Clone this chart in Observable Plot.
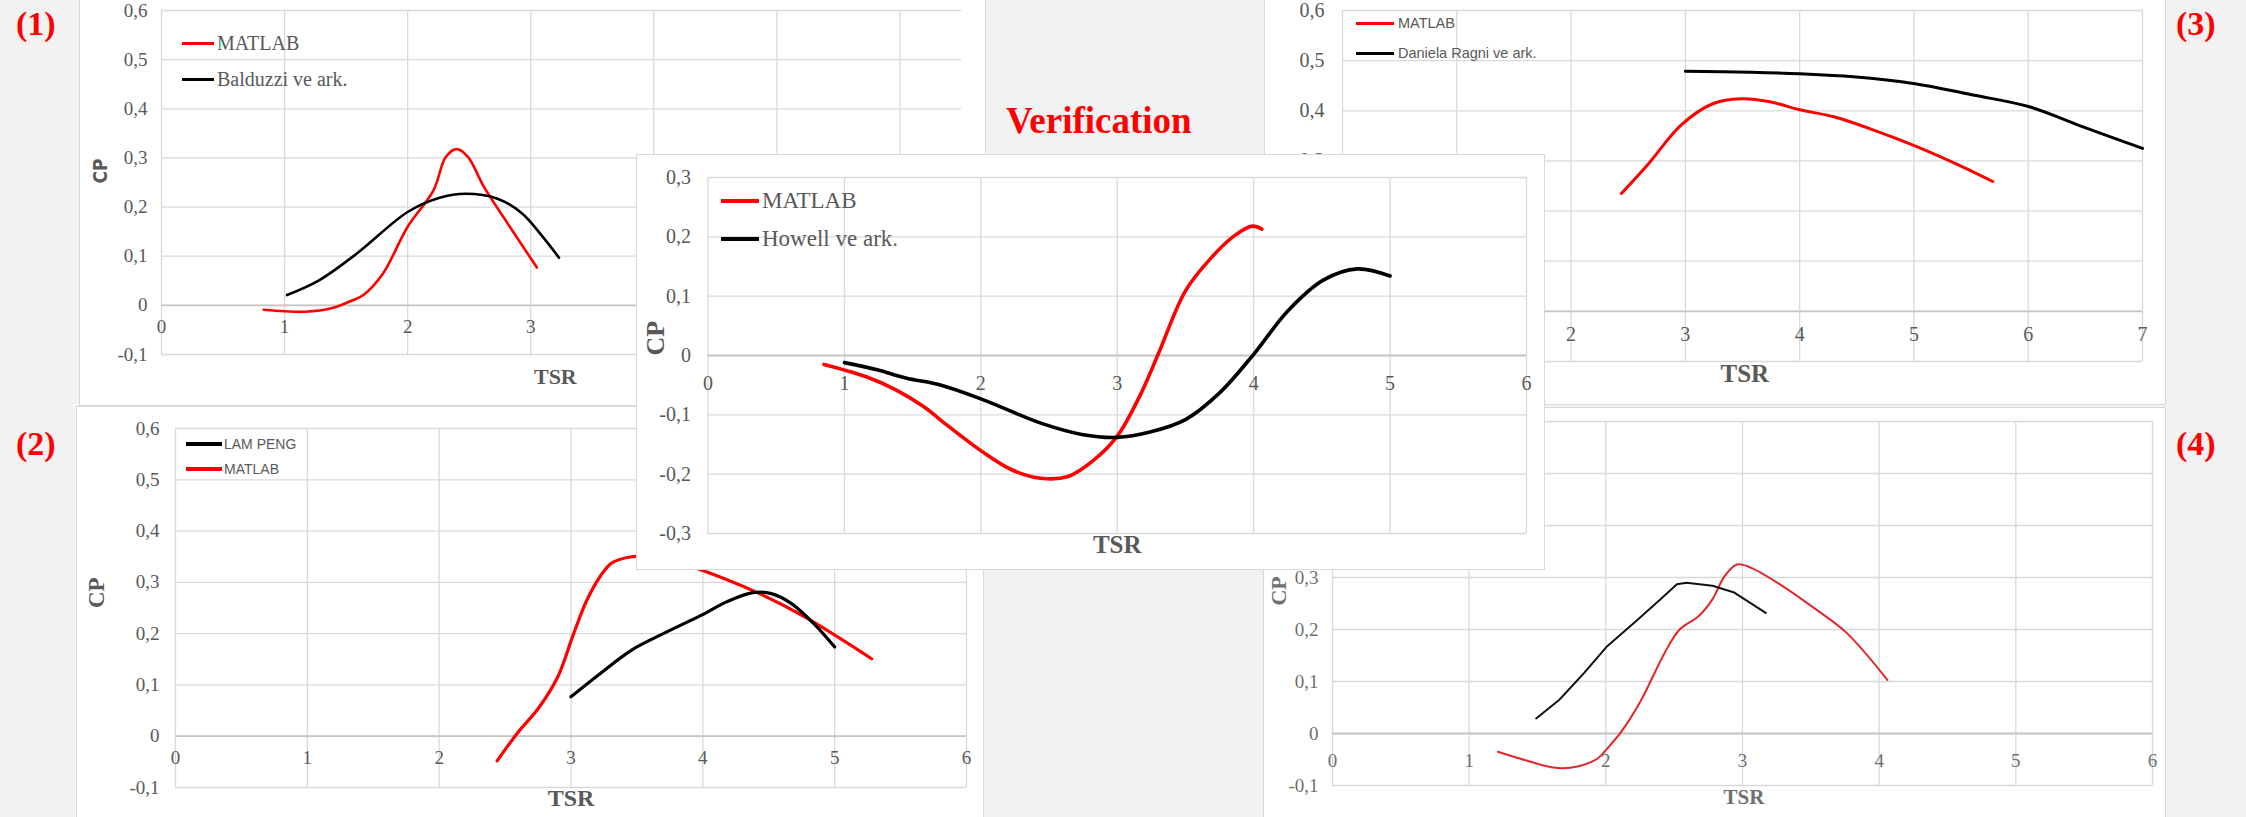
<!DOCTYPE html>
<html>
<head>
<meta charset="utf-8">
<script src="https://cdn.jsdelivr.net/npm/d3@7"></script>
<script src="https://cdn.jsdelivr.net/npm/@observablehq/plot@0.6"></script>
<style>
  html, body { margin: 0; padding: 0; background: #f2f2f2; }
  #root { position: relative; width: 2246px; height: 817px; overflow: hidden; background: #f2f2f2; }
  .panel { position: absolute; background: #fff; box-shadow: 0 0 0 1px #d9d9d9; overflow: hidden; }
  .panel svg { position: absolute; left: 0; top: 0; }
  .tag { position: absolute; font-family: "Liberation Serif", "Times New Roman", serif; font-weight: bold; color: #ff0000; line-height: 1; white-space: nowrap; }
  .leg { position: absolute; display: flex; align-items: center; height: 30px; white-space: nowrap; color: #595959; }
  .sw { position: absolute; }
</style>
</head>
<body>
<div id="root"></div>
<script>
// ---------- DATA ----------
// Panel (1): MATLAB vs Balduzzi ve ark.
const p1MatlabTSR = [0.83, 1.0, 1.17, 1.38, 1.55, 1.64, 1.80, 2.0, 2.21, 2.31, 2.40, 2.49, 2.62, 2.83, 3.05];
const p1MatlabCP  = [-0.009, -0.012, -0.013, -0.006, 0.010, 0.021, 0.065, 0.160, 0.234, 0.302, 0.318, 0.302, 0.241, 0.160, 0.077];
const p1BalduzziTSR = [1.02, 1.28, 1.59, 2.0, 2.26, 2.47, 2.73, 2.93, 3.08, 3.23];
const p1BalduzziCP  = [0.021, 0.051, 0.106, 0.190, 0.219, 0.227, 0.217, 0.187, 0.145, 0.097];

// Panel (2): LAM PENG vs MATLAB
const p2MatlabTSR = [2.44, 2.59, 2.76, 2.90, 3.02, 3.12, 3.22, 3.31, 3.46, 3.60, 3.80, 3.99, 4.43, 4.77, 5.28];
const p2MatlabCP  = [-0.048, 0.005, 0.057, 0.116, 0.200, 0.265, 0.311, 0.338, 0.350, 0.350, 0.340, 0.324, 0.278, 0.233, 0.151];
const p2LamPengTSR = [3.0, 3.22, 3.46, 3.70, 3.99, 4.18, 4.38, 4.52, 4.67, 4.84, 5.0];
const p2LamPengCP  = [0.077, 0.122, 0.168, 0.200, 0.236, 0.262, 0.280, 0.278, 0.259, 0.220, 0.174];

// Panel (3): MATLAB vs Daniela Ragni ve ark.
const p3MatlabTSR = [2.44, 2.68, 2.96, 3.24, 3.49, 3.74, 4.0, 4.30, 4.69, 5.03, 5.36, 5.69];
const p3MatlabCP  = [0.235, 0.295, 0.371, 0.414, 0.424, 0.418, 0.402, 0.388, 0.358, 0.328, 0.295, 0.259];
const p3RagniTSR = [3.0, 3.57, 4.0, 4.47, 5.01, 5.53, 6.01, 6.48, 7.0];
const p3RagniCP  = [0.479, 0.477, 0.474, 0.468, 0.454, 0.431, 0.408, 0.368, 0.325];

// Panel (4): two curves (legend not visible)
const p4RedTSR = [1.21, 1.42, 1.63, 1.80, 1.94, 2.01, 2.12, 2.26, 2.43, 2.54, 2.68, 2.78, 2.87, 2.96, 3.06, 3.29, 3.52, 3.76, 4.06];
const p4RedCP  = [-0.035, -0.052, -0.066, -0.063, -0.048, -0.029, 0.006, 0.065, 0.155, 0.200, 0.226, 0.258, 0.303, 0.325, 0.319, 0.284, 0.242, 0.194, 0.103];
const p4BlackTSR = [1.49, 1.66, 1.84, 2.01, 2.22, 2.40, 2.52, 2.59, 2.78, 2.94, 3.17];
const p4BlackCP  = [0.029, 0.065, 0.116, 0.168, 0.216, 0.258, 0.287, 0.290, 0.284, 0.271, 0.232];

// Centre (Verification): MATLAB vs Howell ve ark.
const cMatlabTSR = [0.85, 1.15, 1.37, 1.58, 1.75, 2.01, 2.23, 2.44, 2.64, 2.83, 3.0, 3.17, 3.30, 3.50, 3.69, 3.86, 3.99, 4.06];
const cMatlabCP  = [-0.015, -0.035, -0.057, -0.086, -0.117, -0.162, -0.193, -0.207, -0.204, -0.176, -0.136, -0.066, 0.002, 0.109, 0.165, 0.202, 0.218, 0.213];
const cHowellTSR = [1.0, 1.24, 1.45, 1.71, 2.01, 2.44, 2.74, 3.0, 3.24, 3.50, 3.75, 4.0, 4.25, 4.51, 4.76, 5.0];
const cHowellCP  = [-0.012, -0.024, -0.038, -0.050, -0.074, -0.114, -0.133, -0.138, -0.129, -0.108, -0.063, 0.002, 0.075, 0.127, 0.146, 0.134];

// Tick values
const ticks0to6 = [0, 1, 2, 3, 4, 5, 6];
const ticks0to7 = [0, 1, 2, 3, 4, 5, 6, 7];
const cpTicksA = [-0.1, 0, 0.1, 0.2, 0.3, 0.4, 0.5, 0.6];
const cpTicksC = [-0.3, -0.2, -0.1, 0, 0.1, 0.2, 0.3];

// Text
const xLabel = "TSR";
const yLabel = "CP";
const title = "Verification";
const tags = ["(1)", "(2)", "(3)", "(4)"];
const legend1 = ["MATLAB", "Balduzzi ve ark."];
const legend2 = ["LAM PENG", "MATLAB"];
const legend3 = ["MATLAB", "Daniela Ragni ve ark."];
const legendC = ["MATLAB", "Howell ve ark."];

// ---------- DRAWING ----------
const SERIF = "'Liberation Serif', 'Times New Roman', serif";
const SANS = "'Liberation Sans', Arial, sans-serif";
const NARROW = "'Liberation Sans Narrow', 'Arial Narrow', 'DejaVu Sans Condensed', sans-serif";
const RED = "#ff0000";
const GREY = "#595959";
const rows = (xs, ys) => xs.map((x, i) => ({x, y: ys[i]}));
const fmt = d => d === 0 ? "0" : d.toFixed(1).replace(".", ",");

function chart(c) {
  const tickFill = c.tickFill || GREY;
  const marks = [
    Plot.gridX(c.xTicks, {stroke: "#d9d9d9", strokeOpacity: 1, strokeWidth: 1.3}),
    Plot.gridY(c.yTicks, {stroke: "#d9d9d9", strokeOpacity: 1, strokeWidth: 1.3}),
    Plot.ruleY([0], {stroke: "#c6c6c6", strokeWidth: 1.8}),
    Plot.text(c.yTicks, {y: d => d, frameAnchor: "left", textAnchor: "end", dx: c.yDx, text: fmt,
      fontFamily: SERIF, fontSize: c.tickSize, fill: tickFill}),
    Plot.text(c.xTicks, {x: d => d, y: () => 0, dy: c.xDy, text: d => String(d),
      fontFamily: SERIF, fontSize: c.tickSize, fill: tickFill}),
    Plot.text([xLabel], {x: () => c.tsr.x, frameAnchor: "bottom", dy: c.tsr.dy,
      fontFamily: SERIF, fontWeight: "bold", fontSize: c.tsr.size, fill: tickFill}),
    Plot.text([yLabel], {y: () => c.cp.y, frameAnchor: "left", dx: c.cp.dx, rotate: -90,
      fontFamily: c.cp.font || SERIF, fontWeight: "bold", fontSize: c.cp.size, fill: tickFill}),
    ...c.series.map(s => Plot.line(rows(s.x, s.y), {x: "x", y: "y", stroke: s.color,
      strokeWidth: s.width, curve: s.curve || "catmull-rom"}))
  ];
  return Plot.plot({
    width: c.w, height: c.h,
    marginLeft: c.ml, marginRight: c.mr, marginTop: c.mt, marginBottom: c.mb,
    x: {domain: c.xDomain, axis: null},
    y: {domain: c.yDomain, axis: null},
    style: {background: "transparent", overflow: "visible"},
    marks
  });
}

const root = document.getElementById("root");

function addPanel(box, cfg, legend) {
  const div = document.createElement("div");
  div.className = "panel";
  Object.assign(div.style, {left: box.left + "px", top: box.top + "px", width: box.w + "px", height: box.h + "px"});
  div.appendChild(chart(Object.assign({w: box.w, h: box.h}, cfg)));
  if (legend) {
    legend.items.forEach((it, i) => {
      const y = legend.y0 + i * legend.gap;
      const sw = document.createElement("div");
      sw.className = "sw";
      Object.assign(sw.style, {left: legend.x1 + "px", width: (legend.x2 - legend.x1) + "px",
        top: (y - legend.stroke / 2) + "px", height: legend.stroke + "px", background: it.color});
      div.appendChild(sw);
      const t = document.createElement("div");
      t.className = "leg";
      t.textContent = it.label;
      Object.assign(t.style, {left: legend.tx + "px", top: (y - 15 + (legend.dy || 0)) + "px",
        fontFamily: legend.font, fontSize: legend.size + "px"});
      div.appendChild(t);
    });
  }
  root.appendChild(div);
}

// Panel (1)
addPanel({left: 80, top: -1, w: 905, h: 406}, {
  ml: 81, mr: 24, mt: 11, mb: 51,
  xDomain: [0, 6.5], yDomain: [-0.1, 0.6], xTicks: ticks0to6, yTicks: cpTicksA,
  tickSize: 19, yDx: -14, xDy: 22,
  tsr: {x: 3.2, dy: 29, size: 22}, cp: {y: 0.248, dx: -61, size: 19, font: NARROW},
  series: [
    {x: p1MatlabTSR, y: p1MatlabCP, color: RED, width: 2.6},
    {x: p1BalduzziTSR, y: p1BalduzziCP, color: "#000", width: 2.6}
  ]
}, {items: [{label: legend1[0], color: RED}, {label: legend1[1], color: "#000"}],
    x1: 102, x2: 134, tx: 137, y0: 44, gap: 36, stroke: 3, font: SERIF, size: 20});

// Panel (3)
addPanel({left: 1265, top: -1, w: 900, h: 405}, {
  ml: 77, mr: 23, mt: 11, mb: 43,
  xDomain: [0, 7], yDomain: [-0.1, 0.6], xTicks: ticks0to7, yTicks: cpTicksA,
  tickSize: 20, yDx: -18, xDy: 23,
  tsr: {x: 3.52, dy: 20, size: 25}, cp: {y: 0.25, dx: -55, size: 22},
  series: [
    {x: p3MatlabTSR, y: p3MatlabCP, color: RED, width: 3},
    {x: p3RagniTSR, y: p3RagniCP, color: "#000", width: 3}
  ]
}, {items: [{label: legend3[0], color: RED}, {label: legend3[1], color: "#000"}],
    x1: 91, x2: 129, tx: 133, y0: 24, gap: 30, stroke: 3, font: SANS, size: 14.5});

// Panel (2)
addPanel({left: 77, top: 407, w: 906, h: 411}, {
  ml: 98, mr: 17, mt: 21, mb: 31,
  xDomain: [0, 6], yDomain: [-0.1, 0.6], xTicks: ticks0to6, yTicks: cpTicksA,
  tickSize: 19, yDx: -16, xDy: 22,
  tsr: {x: 3, dy: 18, size: 24}, cp: {y: 0.25, dx: -79, size: 23},
  series: [
    {x: p2MatlabTSR, y: p2MatlabCP, color: RED, width: 3.2},
    {x: p2LamPengTSR, y: p2LamPengCP, color: "#000", width: 3.2}
  ]
}, {items: [{label: legend2[0], color: "#000"}, {label: legend2[1], color: RED}],
    x1: 109, x2: 145, tx: 147, y0: 37, gap: 25, stroke: 3.5, font: SANS, size: 14});

// Panel (4)
addPanel({left: 1264, top: 408, w: 901, h: 410}, {
  ml: 68, mr: 13, mt: 13, mb: 33,
  xDomain: [0, 6], yDomain: [-0.1, 0.6], xTicks: ticks0to6, yTicks: cpTicksA,
  tickSize: 19, yDx: -14, xDy: 27, tickFill: "#6f6f6f",
  tsr: {x: 3.01, dy: 18, size: 21}, cp: {y: 0.246, dx: -54, size: 22},
  series: [
    {x: p4RedTSR, y: p4RedCP, color: "#e3262a", width: 2},
    {x: p4BlackTSR, y: p4BlackCP, color: "#111", width: 2, curve: "linear"}
  ]
}, null);

// Centre panel (on top)
addPanel({left: 637, top: 155, w: 907, h: 414}, {
  ml: 70.5, mr: 18, mt: 22, mb: 36,
  xDomain: [0, 6], yDomain: [-0.3, 0.3], xTicks: ticks0to6, yTicks: cpTicksC,
  tickSize: 20, yDx: -17, xDy: 28,
  tsr: {x: 3, dy: 19, size: 25}, cp: {y: 0, dx: -52, size: 26},
  series: [
    {x: cMatlabTSR, y: cMatlabCP, color: RED, width: 3.6},
    {x: cHowellTSR, y: cHowellCP, color: "#000", width: 3.6}
  ]
}, {items: [{label: legendC[0], color: RED}, {label: legendC[1], color: "#000"}],
    x1: 84, x2: 122, tx: 125, y0: 46, gap: 38, stroke: 4, font: SERIF, size: 23});

// Title and panel tags
function addTag(text, left, top, size, color) {
  const d = document.createElement("div");
  d.className = "tag";
  d.textContent = text;
  Object.assign(d.style, {left: left + "px", top: top + "px", fontSize: size + "px", color});
  root.appendChild(d);
}
addTag(title, 1006, 102, 37, RED);
addTag(tags[0], 16, 7, 34, RED);
addTag(tags[1], 16, 427, 34, RED);
addTag(tags[2], 2176, 7, 34, RED);
addTag(tags[3], 2176, 427, 34, RED);
</script>
</body>
</html>
